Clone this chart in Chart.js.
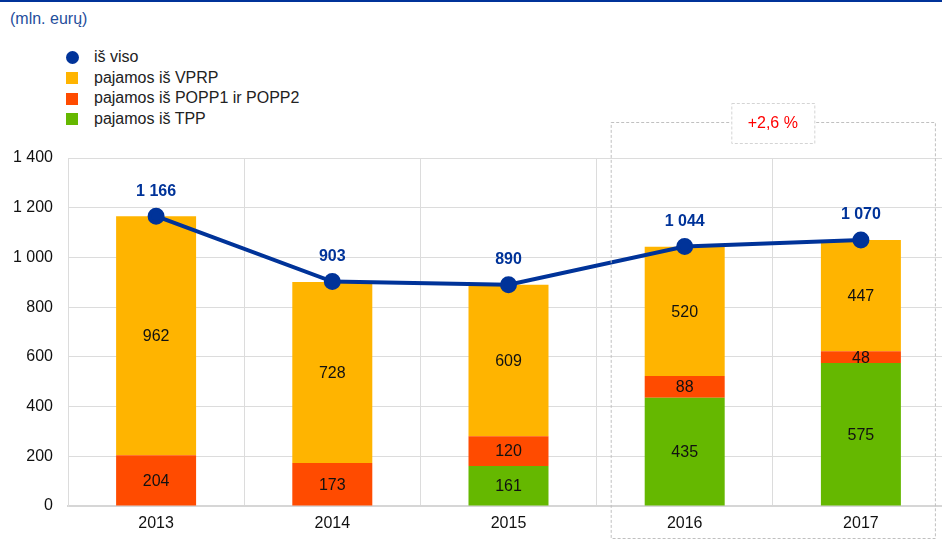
<!DOCTYPE html>
<html>
<head>
<meta charset="utf-8">
<script src="https://cdn.jsdelivr.net/npm/chart.js@4"></script>
<style>
  html, body { margin: 0; padding: 0; background: #fff; overflow: hidden; }
  body { width: 942px; height: 548px; position: relative; font-family: "Liberation Sans", Arial, sans-serif; }
  .topline { position: absolute; left: 0; top: 0; width: 942px; height: 2px; background: #003399; }
  .unit { position: absolute; left: 10px; top: 10px; font-size: 16px; color: #1f4e9c; }
  .legend { position: absolute; left: 66px; top: 47px; font-size: 16px; color: #222; }
  .legend div { height: 20.7px; line-height: 20.7px; display: flex; align-items: center; }
  .legend span.sw { display: inline-block; width: 12px; height: 12px; margin-right: 16px; }
  .legend span.dot { border-radius: 50%; width: 13px; height: 13px; margin-right: 15px; }
  #chart { position: absolute; left: 0; top: 0; }
</style>
</head>
<body>
<div class="topline"></div>
<div class="unit">(mln. eurų)</div>
<div class="legend" id="legend"></div>
<canvas id="chart" width="950" height="548"></canvas>
<script>
// Data
const years = ['2013', '2014', '2015', '2016', '2017'];
const total = [1166, 903, 890, 1044, 1070];
const vprp = [962, 728, 609, 520, 447];
const popp = [204, 173, 120, 88, 48];
const tpp = [0, 0, 161, 435, 575];
const yTicks = [0, 200, 400, 600, 800, 1000, 1200, 1400];
const changeLabel = '+2,6 %';

const colors = {
    total: '#003399',
    vprp: '#FFB400',
    popp: '#FF4B00',
    tpp: '#65B800'
};

const FONT = '"Liberation Sans", Arial, sans-serif';

function fmt(v) {
    return String(v).replace(/\B(?=(\d{3})+(?!\d))/g, ' ');
}

// Legend (HTML)
const legendItems = [
    { label: 'iš viso', color: colors.total, dot: true },
    { label: 'pajamos iš VPRP', color: colors.vprp },
    { label: 'pajamos iš POPP1 ir POPP2', color: colors.popp },
    { label: 'pajamos iš TPP', color: colors.tpp }
];
document.getElementById('legend').innerHTML = legendItems.map(it =>
    `<div><span class="sw${it.dot ? ' dot' : ''}" style="background:${it.color}"></span>${it.label}</div>`
).join('');

// Value labels + dashed annotation box
const labelPlugin = {
    id: 'labels',
    afterDatasetsDraw(chart) {
        const c = chart.ctx;
        const x = chart.scales.x;
        c.save();
        c.textAlign = 'center';
        c.textBaseline = 'middle';

        // segment labels
        c.font = '16px ' + FONT;
        c.fillStyle = '#111';
        [0, 1, 2].forEach(di => {
            const meta = chart.getDatasetMeta(di);
            meta.data.forEach((bar, i) => {
                const v = chart.data.datasets[di].data[i];
                if (!v) return;
                c.fillText(fmt(v), bar.x, (bar.y + bar.base) / 2 + 1);
            });
        });

        // total labels
        c.font = 'bold 16px ' + FONT;
        c.fillStyle = colors.total;
        chart.getDatasetMeta(3).data.forEach((pt, i) => {
            c.fillText(fmt(total[i]), pt.x, pt.y - 25);
        });

        // dashed box around 2016-2017
        const left = x.getPixelForValue(3) - 74;
        const right = x.getPixelForValue(4) + 74;
        const top = 122, bottom = 538;
        c.strokeStyle = '#c0c0c0';
        c.lineWidth = 1;
        c.setLineDash([3, 2]);
        c.strokeRect(left + 0.5, top + 0.5, right - left, bottom - top);

        const mid = (x.getPixelForValue(3) + x.getPixelForValue(4)) / 2;
        const bw = 83, bh = 40;
        c.fillStyle = '#fff';
        c.fillRect(mid - bw / 2, 103, bw, bh);
        c.strokeStyle = '#d4d4d4';
        c.strokeRect(mid - bw / 2 + 0.5, 103 + 0.5, bw, bh);
        c.setLineDash([]);
        c.font = '16px ' + FONT;
        c.fillStyle = '#ff0000';
        c.fillText(changeLabel, mid, 124);
        c.restore();
    }
};

new Chart(document.getElementById('chart'), {
    data: {
        labels: years,
        datasets: [
            { type: 'bar', label: 'pajamos iš TPP', data: tpp, backgroundColor: colors.tpp, stack: 'a', order: 1 },
            { type: 'bar', label: 'pajamos iš POPP1 ir POPP2', data: popp, backgroundColor: colors.popp, stack: 'a', order: 1 },
            { type: 'bar', label: 'pajamos iš VPRP', data: vprp, backgroundColor: colors.vprp, stack: 'a', order: 1 },
            {
                type: 'line', label: 'iš viso', data: total, stack: 'b', order: 0,
                borderColor: colors.total, backgroundColor: colors.total,
                borderWidth: 4, pointRadius: 6.5, pointHoverRadius: 6.5, tension: 0, fill: false
            }
        ]
    },
    options: {
        responsive: false,
        animation: false,
        // chart area runs past the right edge of the picture, as in the reference
        layout: { autoPadding: false, padding: { top: 158, left: 0, right: 1, bottom: 0 } },
        datasets: { bar: { barPercentage: 0.454, categoryPercentage: 1 } },
        plugins: { legend: { display: false }, tooltip: { enabled: false } },
        scales: {
            x: {
                stacked: true,
                grid: { color: '#dcdcdc', drawTicks: false, offset: true },
                border: { color: '#d6d6d6', width: 2 },
                ticks: { color: '#111', font: { family: FONT, size: 16 }, padding: 8 },
                afterFit(s) { s.height = 42; s.paddingLeft = 0; s.paddingRight = 0; }
            },
            y: {
                stacked: true,
                min: 0, max: 1400,
                afterBuildTicks(s) { s.ticks = yTicks.map(v => ({ value: v })); },
                grid: { color: '#dcdcdc', drawTicks: false },
                border: { color: '#dcdcdc' },
                ticks: { color: '#111', font: { family: FONT, size: 16 }, padding: 15, callback: v => fmt(v) },
                afterFit(s) { s.width = 68; }
            }
        }
    },
    plugins: [labelPlugin]
});
</script>
</body>
</html>
